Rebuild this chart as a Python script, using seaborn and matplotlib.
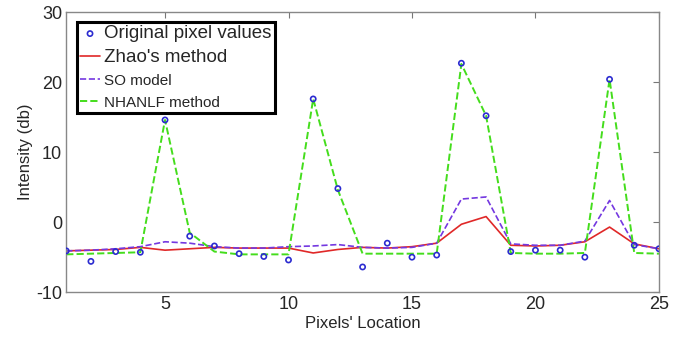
import numpy as np
import pandas as pd
import matplotlib
matplotlib.use('Agg')
import matplotlib.pyplot as plt
import seaborn as sns

# Values
pixels = list(range(1, 26))
original = [-4.1, -5.6, -4.2, -4.3, 14.6, -2.0, -3.4, -4.5, -4.9, -5.4,
            17.6, 4.8, -6.4, -3.0, -5.0, -4.7, 22.7, 15.2, -4.2, -4.0,
            -4.0, -5.0, 20.4, -3.3, -3.8]
zhao = [-4.1, -4.0, -3.9, -3.6, -4.0, -3.8, -3.6, -3.7, -3.7, -3.7,
        -4.4, -3.9, -3.6, -3.7, -3.5, -3.0, -0.3, 0.8, -3.3, -3.4,
        -3.3, -2.8, -0.7, -3.1, -3.8]
so_model = [-4.1, -4.0, -3.8, -3.5, -2.8, -3.0, -3.5, -3.7, -3.7, -3.5,
            -3.4, -3.2, -3.6, -3.7, -3.6, -3.0, 3.3, 3.6, -3.1, -3.3,
            -3.3, -2.7, 3.1, -3.2, -3.8]
nhanlf = [-4.6, -4.5, -4.4, -4.3, 14.6, -1.5, -4.2, -4.6, -4.6, -4.6,
          17.6, 4.6, -4.5, -4.5, -4.5, -4.5, 22.6, 15.2, -4.4, -4.5,
          -4.5, -4.4, 20.4, -4.4, -4.5]

df = pd.DataFrame({'pixel': pixels, 'original': original, 'zhao': zhao,
                   'so': so_model, 'nhanlf': nhanlf})

sns.set_style('white')
plt.rcParams['font.family'] = ['Liberation Sans', 'DejaVu Sans']
plt.rcParams['axes.unicode_minus'] = False

fig, ax = plt.subplots(figsize=(6.9, 3.37), dpi=100)
fig.subplots_adjust(left=0.096, right=0.955, top=0.964, bottom=0.133)

sns.scatterplot(data=df, x='pixel', y='original', ax=ax, marker='o', s=14,
                facecolor='none', edgecolor='#2b2bd0', linewidth=1.2,
                label='Original pixel values', zorder=5)
sns.lineplot(data=df, x='pixel', y='zhao', ax=ax, color='#e02828',
             linewidth=1.2, label="Zhao's method")
sns.lineplot(data=df, x='pixel', y='so', ax=ax, color='#7438e0',
             linewidth=1.2, linestyle='--', dashes=(5, 2.5), label='SO model')
sns.lineplot(data=df, x='pixel', y='nhanlf', ax=ax, color='#44dd1c',
             linewidth=1.4, linestyle='--', dashes=(5, 2.5), label='NHANLF method')

ax.set_xlim(1, 25)
ax.set_ylim(-10, 30)
ax.set_xticks([5, 10, 15, 20, 25])
ax.set_yticks([-10, 0, 10, 20, 30])
ax.tick_params(direction='in', length=4, top=True, right=True, labelsize=13,
               color='#777777', pad=3)
for sp in ax.spines.values():
    sp.set_color('#888888')
    sp.set_linewidth(1.0)
ax.set_xlabel("Pixels' Location", fontsize=12, labelpad=2)
ax.set_ylabel('Intensity (db)', fontsize=12, labelpad=2)

leg = ax.legend(loc='upper left', bbox_to_anchor=(0.012, 0.978), fancybox=False,
                edgecolor='black', framealpha=1, fontsize=12, handlelength=1.2,
                handletextpad=0.25, borderpad=0.2, labelspacing=0.43,
                borderaxespad=0.2)
leg.get_frame().set_linewidth(2.2)
sizes = [13.5, 13.5, 11, 11]
for txt, sz in zip(leg.get_texts(), sizes):
    txt.set_fontsize(sz)

fig.savefig('out.png', dpi=100)
